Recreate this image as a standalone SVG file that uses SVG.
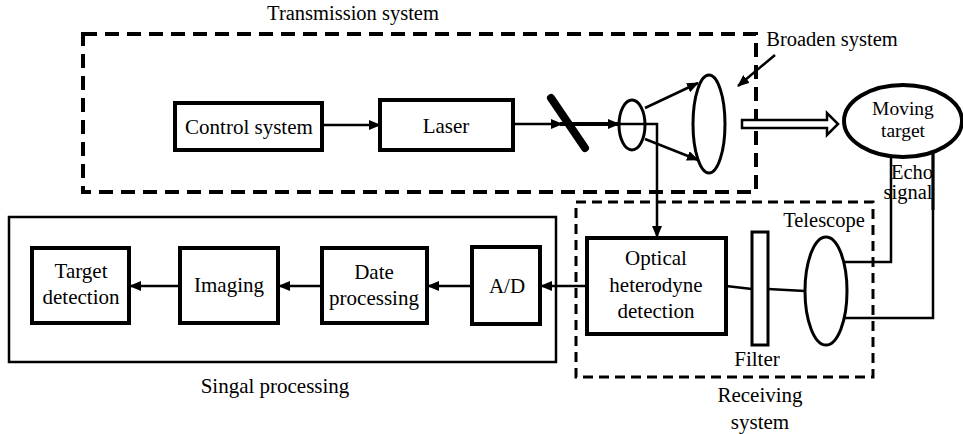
<svg xmlns="http://www.w3.org/2000/svg" width="963" height="434" viewBox="0 0 963 434">
<style>
text{font-family:"Liberation Serif","Times New Roman",serif;font-size:21px;fill:#000;text-anchor:middle}
.sm{font-size:20.5px}
.mt{font-size:19.5px}
.box{fill:#fff;stroke:#000;stroke-width:4}
.ln{fill:none;stroke:#000;stroke-width:2.5}
.lens{fill:none;stroke:#000;stroke-width:3}
</style>
<defs>
<marker id="ah" viewBox="0 0 12 10" refX="11" refY="5" markerWidth="12" markerHeight="10" markerUnits="userSpaceOnUse" orient="auto">
<path d="M0,0 L12,5 L0,10 Z" fill="#000"/>
</marker>
</defs>
<rect width="963" height="434" fill="#fff"/>

<g id="transmission-system">
<rect x="83" y="34" width="673" height="158" fill="none" stroke="#000" stroke-width="4" stroke-dasharray="14,8"/>
<text class="sm" x="353" y="20">Transmission system</text>
</g>
<g id="receiving-system">
<rect x="576" y="202" width="297" height="175" fill="none" stroke="#000" stroke-width="3" stroke-dasharray="10,6"/>
<text x="760" y="402">Receiving</text>
<text x="760" y="429">system</text>
</g>
<g id="signal-processing">
<rect x="9" y="217" width="547" height="145" fill="none" stroke="#000" stroke-width="2.5"/>
<text x="275" y="393">Singal processing</text>
</g>

<g id="connectors">
<line class="ln" x1="322" y1="125" x2="380" y2="125" marker-end="url(#ah)"/>
<line class="ln" x1="513" y1="124" x2="562" y2="124" marker-end="url(#ah)"/>
<line x1="560" y1="124" x2="619" y2="124" stroke="#000" stroke-width="4" marker-end="url(#ah)"/>
<polyline class="ln" points="619,124 657,124 657,237" marker-end="url(#ah)" stroke-width="3"/>
<line class="ln" x1="645" y1="108" x2="698" y2="83" marker-end="url(#ah)"/>
<line class="ln" x1="645" y1="139" x2="698" y2="160" marker-end="url(#ah)"/>
<line class="ln" x1="775" y1="55" x2="738" y2="86" marker-end="url(#ah)"/>
<path d="M742,120 L827,120 L827,113 L838,124 L827,135 L827,128 L742,128 Z" fill="#fff" stroke="#000" stroke-width="2.5"/>
<polyline class="ln" points="891,150 891,262 844,262" stroke-width="3"/>
<polyline class="ln" points="933,150 933,318 844,318" stroke-width="3"/>
<line class="ln" x1="726" y1="286" x2="752" y2="289" stroke-width="2"/>
<line class="ln" x1="768" y1="289" x2="805" y2="291" stroke-width="2"/>
<line class="ln" x1="587" y1="286" x2="541" y2="286" marker-end="url(#ah)"/>
<line class="ln" x1="472" y1="286" x2="428" y2="286" marker-end="url(#ah)"/>
<line class="ln" x1="322" y1="286" x2="279" y2="286" marker-end="url(#ah)"/>
<line class="ln" x1="180" y1="286" x2="130" y2="286" marker-end="url(#ah)"/>
</g>

<g id="control-system">
<rect class="box" x="175" y="103" width="147" height="47"/>
<text x="249" y="134">Control system</text>
</g>
<g id="laser">
<rect class="box" x="380" y="100" width="133" height="50"/>
<text x="446" y="133">Laser</text>
</g>
<g id="mirror">
<line x1="551" y1="98" x2="585" y2="148" stroke="#000" stroke-width="8" stroke-linecap="round"/>
</g>
<g id="small-lens">
<ellipse class="lens" cx="632" cy="125" rx="13" ry="25"/>
</g>
<g id="broaden-lens">
<ellipse class="lens" cx="709" cy="124" rx="16" ry="49"/>
<text class="sm" x="832" y="46">Broaden system</text>
</g>
<g id="moving-target">
<ellipse cx="903" cy="121" rx="59" ry="36" fill="#fff" stroke="#000" stroke-width="4"/>
<text class="mt" x="903" y="115">Moving</text>
<text class="mt" x="903" y="137">target</text>
</g>
<g id="echo-signal">
<text class="sm" x="912" y="179">Echo</text>
<text class="sm" x="908" y="199">signal</text>
<line x1="933" y1="150" x2="933" y2="210" stroke="#000" stroke-width="3"/>
</g>
<g id="optical-heterodyne-detection">
<rect class="box" x="587" y="238" width="139" height="96"/>
<text x="656" y="265">Optical</text>
<text x="656" y="292">heterodyne</text>
<text x="656" y="318">detection</text>
</g>
<g id="filter">
<rect x="752" y="232" width="16" height="113" fill="#fff" stroke="#000" stroke-width="3"/>
<text x="757" y="366">Filter</text>
</g>
<g id="telescope">
<ellipse class="lens" cx="826" cy="291" rx="21" ry="54" fill="#fff"/>
<text class="sm" x="824" y="227">Telescope</text>
</g>
<g id="ad">
<rect class="box" x="472" y="247" width="68" height="77"/>
<text x="507" y="293">A/D</text>
</g>
<g id="date-processing">
<rect class="box" x="322" y="248" width="105" height="75"/>
<text x="374" y="279">Date</text>
<text x="374" y="305">processing</text>
</g>
<g id="imaging">
<rect class="box" x="180" y="248" width="98" height="75"/>
<text x="229" y="292">Imaging</text>
</g>
<g id="target-detection">
<rect class="box" x="32" y="248" width="97" height="75"/>
<text x="81" y="278">Target</text>
<text x="81" y="304">detection</text>
</g>
</svg>
